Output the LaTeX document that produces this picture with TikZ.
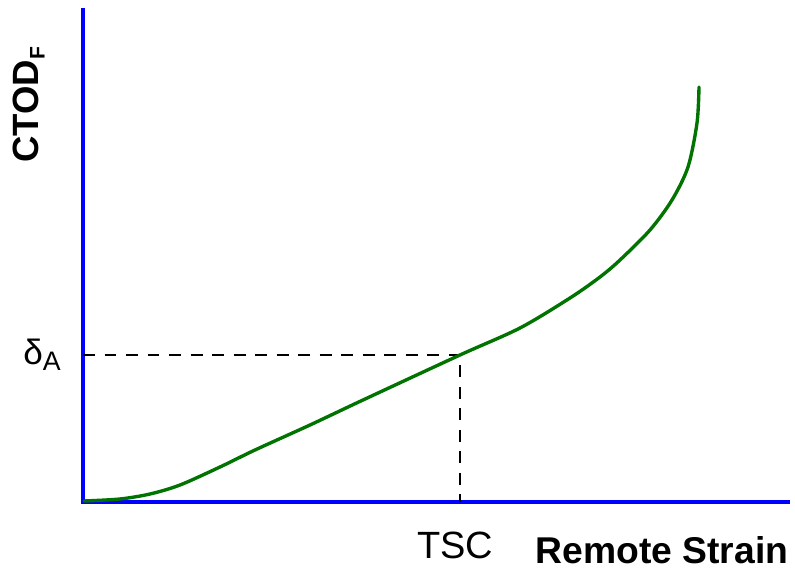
\documentclass[tikz,border=0pt]{standalone}
\usepackage{fontspec}
\setmainfont{Liberation Sans}
\usetikzlibrary{positioning}

\begin{document}
\begin{tikzpicture}[x=0.025cm, y=0.025cm, every node/.style={font=\fontsize{27}{30}\selectfont, inner sep=0pt}, axis/.style={draw=blue, line width=2.85pt}, guide/.style={draw, dash pattern=on 8.5pt off 6.8pt, line width=1.4pt}, curve/.style={draw=green!45!black, line width=2.4pt, line cap=round}]
\useasboundingbox (0,0) rectangle (795,571);
\coordinate (o) at (83,69);
\coordinate (ytop) at (83,563);
\coordinate (xend) at (790,69);
\coordinate (pa) at (460,216);
\draw[axis] (ytop) -- (o) -- (xend);
\draw[guide] (o |- pa) -- (pa) -- (pa |- o);
\draw[curve] plot[smooth, tension=0.5] coordinates {(84,70) (120,72) (150,77) (180,86) (220,104) (255,121) (310,146) (363,171) (460,216) (520,243) (570,273) (600,294) (620,311) (650,341) (672,371) (688,404) (697,448) (699,484)};
\node (dA) at (42,216) {\fontsize{25}{25}\selectfont δ\raisebox{-0.3ex}{\fontsize{19}{19}\selectfont A}};
\node (tsc) at (455,26) {TSC};
\node[font=\fontsize{26.5}{30}\selectfont\bfseries] (xlab) at (662,21) {Remote Strain};
\node[font=\fontsize{26}{30}\selectfont\bfseries, rotate=90] (ylab) at (29,466) {CTOD\raisebox{-0.3ex}{\fontsize{15}{15}\selectfont F}};
\end{tikzpicture}
\end{document}
